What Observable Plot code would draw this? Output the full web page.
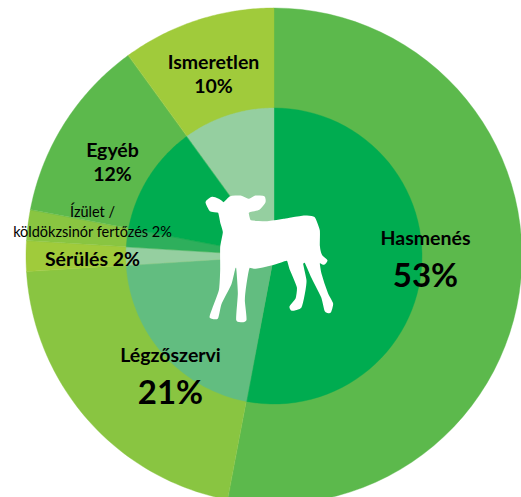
<!DOCTYPE html>
<html><head><meta charset="utf-8">
<script src="https://cdn.jsdelivr.net/npm/d3@7"></script>
<script src="https://cdn.jsdelivr.net/npm/@observablehq/plot@0.6"></script>
<style>html,body{margin:0;padding:0;background:#fff}svg{display:block}</style>
</head><body><div id="chart"></div><script>
const categories = ["Hasmenés","Légzőszervi","Sérülés","Ízület / köldökzsinór fertőzés","Egyéb","Ismeretlen"];
const shares = [53,21,2,2,12,10];
const outerColors = ["#5cb94c","#89c541","#a0cb3b","#89c541","#5cb94c","#a0cb3b"];
const innerColors = ["#00ac50","#62bd80","#95cfa0","#2eaf5c","#00ac50","#95cfa0"];
const outerRadius = 248, innerRadius = 148;
const calfOutline = [[48,65],[65,52],[85,58],[100,68],[120,50],[150,48],[175,58],[195,48],[220,50],[222,65],[205,85],[175,93],[172,100],[180,122],[230,125],[280,118],[340,108],[370,112],[385,150],[385,195],[392,225],[408,240],[400,250],[385,245],[390,280],[410,340],[425,370],[418,395],[405,390],[395,350],[365,290],[345,245],[335,250],[345,300],[340,340],[330,380],[305,388],[300,378],[318,355],[322,320],[300,265],[290,238],[250,250],[195,262],[175,260],[165,310],[160,360],[165,418],[140,418],[145,340],[140,262],[132,262],[120,310],[90,370],[80,412],[60,410],[68,385],[88,330],[92,270],[92,200],[100,155],[92,125],[85,95],[60,90]];
const boldLabels = [
  {t:"Hasmenés",x:425,y:238,s:19.5},{t:"53%",x:425,y:276,s:33},
  {t:"Légzőszervi",x:170,y:355,s:19.5},{t:"21%",x:170,y:393,s:33},
  {t:"Ismeretlen",x:213,y:62,s:19.5},{t:"10%",x:213,y:86,s:19.5},
  {t:"Egyéb",x:112,y:150,s:19.5},{t:"12%",x:112,y:174,s:19.5},
  {t:"Sérülés 2%",x:92,y:259,s:19.5}
];
const plainLabels = [
  {t:"Ízület /",x:92,y:212,s:14.5},{t:"köldökzsinór fertőzés 2%",x:92,y:232,s:14.5}
];
const W=521,H=497,cx=274,cy=256;
const starts=d3.cumsum([0,...shares]);
const wedges=(r,colors)=>categories.flatMap((c,i)=>d3.range(0,61).map(k=>{
  const a=(starts[i]+shares[i]*k/60)/100*2*Math.PI;
  return {c:c,fill:colors[i],x:cx+r*Math.sin(a),y:cy-r*Math.cos(a),x0:cx,y0:cy};
}));
const band={x1:"x0",y1:"y0",x2:"x",y2:"y",z:"c",fill:"fill",stroke:"fill",strokeWidth:0.4};
const calf=calfOutline.map(([a,b])=>({x:190+a/3,y:180+b/3}));
const text=(w)=>({x:"x",y:"y",text:"t",fontSize:"s",fontWeight:w,fill:"#000",fontFamily:"Lato",textAnchor:"middle"});
const chart=Plot.plot({
  width:W,height:H,margin:0,
  x:{domain:[0,W],range:[0,W],axis:null},
  y:{domain:[0,H],range:[0,H],axis:null},
  marks:[
    Plot.area(wedges(outerRadius,outerColors),band),
    Plot.area(wedges(innerRadius,innerColors),band),
    Plot.line(calf,{x:"x",y:"y",fill:"#fff",stroke:"#fff",strokeWidth:2,curve:"cardinal-closed",tension:0.5,strokeLinejoin:"round"}),
    Plot.text(boldLabels,text(700)),
    Plot.text(plainLabels,text(400))
  ]
});
document.getElementById("chart").append(chart);
</script></body></html>
